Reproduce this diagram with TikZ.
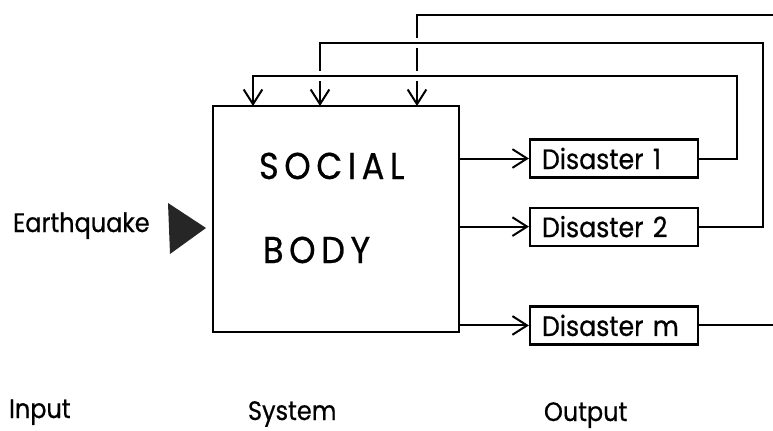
\documentclass[tikz,border=0pt]{standalone}
\usepackage{fontspec}
\setmainfont{Poppins}[FakeStretch=0.9,FakeBold=0.6]
\newfontfamily\spacedfont{Poppins}[FakeStretch=0.9,FakeBold=0.6,LetterSpace=15]
\usetikzlibrary{arrows.meta,positioning}

\begin{document}
\begin{tikzpicture}[x=0.75pt,y=-0.75pt,line width=1.5pt,node distance=21pt,
    >={Straight Barb[length=11pt,width=14pt]}]
       \tikzstyle{block}=[draw,rectangle,line width=1.6pt,inner sep=0pt]
       \tikzstyle{disaster}=[block,minimum height=28.5pt,text width=108pt,inner xsep=9pt,align=left,font=\fontsize{21}{23}\selectfont]
       \tikzstyle{caption}=[anchor=base west,inner sep=0pt,font=\fontsize{20}{22}\selectfont]
       \tikzstyle{title}=[anchor=base west,inner sep=0pt,font=\spacedfont\fontsize{28}{30}\selectfont]
       \tikzstyle{halo}=[preaction={draw=white,line width=7pt,-,shorten <=3pt,shorten >=9pt}]

       \useasboundingbox (0,0) rectangle (773,431);

       \node[block,minimum width=184.5pt,minimum height=169.5pt] (body) at (336,219) {};
       \node[title] (social) at (258,179) {SOCIAL};
       \node[title] (bodytxt) at (262,263) {BODY};

       \node[disaster] (d1) at (614,158.5) {Disaster 1};
       \node[disaster,below=of d1] (d2) {Disaster 2};
       \node[disaster,below=44pt of d2] (dm) {Disaster m};

       \node[caption] (quake) at (12,232) {Earthquake};
       \fill[black!85] (168,203) -- (206,228) -- (170,254) -- cycle;

       \node[caption] (input) at (8,418) {Input};
       \node[caption] (system) at (247,420) {System};
       \node[caption] (output) at (543,421) {Output};

       \path[->]
       (body.east |- d1) edge (d1)
       (body.east |- d2) edge (d2)
       (body.east |- dm) edge (dm);

       % feedback loops
       \coordinate (r1) at (737,76);
       \coordinate (r2) at (763,43);
       \coordinate (r3) at (780,15);
       \coordinate (in1) at (253,106);
       \coordinate (in2) at (320,106);
       \coordinate (in3) at (417,106);

       \draw[->] (r3) -| (in3);
       \draw (dm) -- (dm -| r3);
       \draw[->,halo] (d2) -| (r2) -| (in2);
       \draw[->,halo] (d1) -| (r1) -| (in1);
\end{tikzpicture}
\end{document}
